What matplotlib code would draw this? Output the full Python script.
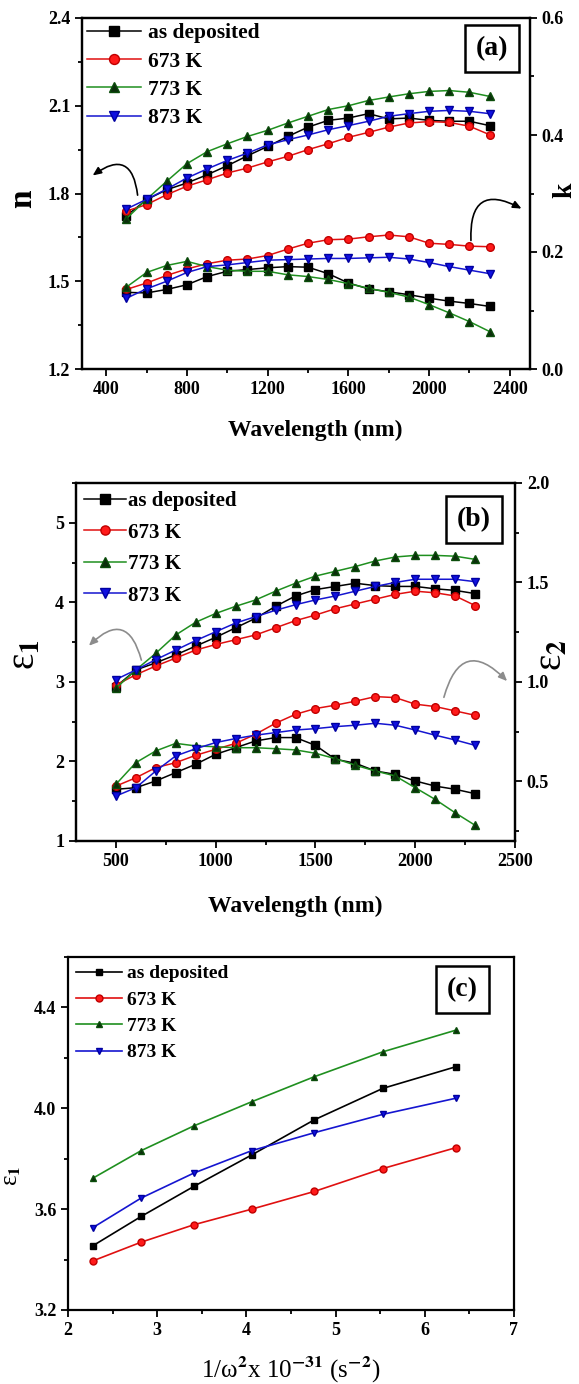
import matplotlib
matplotlib.use('Agg')
import matplotlib.pyplot as plt
from matplotlib.ticker import MultipleLocator

plt.rcParams['font.family'] = ['Liberation Serif', 'DejaVu Serif']
plt.rcParams['font.weight'] = 'bold'
plt.rcParams['mathtext.fontset'] = 'stix'

# ---------------- data ----------------
labels = ['as deposited', '673 K', '773 K', '873 K']
wavelength = [500, 600, 700, 800, 900, 1000, 1100, 1200, 1300, 1400,
              1500, 1600, 1700, 1800, 1900, 2000, 2100, 2200, 2300]

# refractive index n
n_asdep = [1.724, 1.779, 1.813, 1.836, 1.864, 1.895, 1.929, 1.961, 1.995, 2.027,
           2.050, 2.058, 2.073, 2.055, 2.058, 2.050, 2.047, 2.047, 2.032]
n_673 = [1.740, 1.762, 1.796, 1.825, 1.847, 1.870, 1.887, 1.908, 1.927, 1.950,
         1.970, 1.992, 2.009, 2.027, 2.041, 2.046, 2.043, 2.030, 2.001]
n_773 = [1.714, 1.780, 1.842, 1.902, 1.943, 1.970, 1.995, 2.016, 2.041, 2.064,
         2.087, 2.100, 2.118, 2.130, 2.141, 2.149, 2.152, 2.146, 2.132]
n_873 = [1.747, 1.780, 1.815, 1.853, 1.884, 1.913, 1.938, 1.966, 1.984, 2.000,
         2.018, 2.032, 2.047, 2.064, 2.073, 2.081, 2.084, 2.081, 2.073]

# extinction coefficient k
k_asdep = [0.131, 0.130, 0.136, 0.144, 0.158, 0.167, 0.170, 0.173, 0.175, 0.174,
           0.163, 0.147, 0.137, 0.132, 0.127, 0.121, 0.116, 0.112, 0.107]
k_673 = [0.136, 0.147, 0.160, 0.171, 0.180, 0.186, 0.188, 0.194, 0.205, 0.215,
         0.221, 0.222, 0.226, 0.229, 0.226, 0.215, 0.213, 0.210, 0.209]
k_773 = [0.140, 0.165, 0.177, 0.184, 0.175, 0.169, 0.167, 0.167, 0.161, 0.158,
         0.153, 0.146, 0.138, 0.131, 0.123, 0.110, 0.096, 0.081, 0.064]
k_873 = [0.121, 0.137, 0.150, 0.165, 0.175, 0.178, 0.182, 0.186, 0.187, 0.188,
         0.189, 0.189, 0.190, 0.191, 0.188, 0.182, 0.175, 0.169, 0.163]

# real part of dielectric constant
e1_asdep = [2.94, 3.15, 3.24, 3.34, 3.45, 3.56, 3.68, 3.80, 3.95, 4.08,
            4.16, 4.20, 4.24, 4.21, 4.20, 4.20, 4.17, 4.15, 4.11]
e1_673 = [2.96, 3.09, 3.20, 3.30, 3.40, 3.47, 3.53, 3.59, 3.68, 3.77,
          3.84, 3.92, 3.98, 4.04, 4.10, 4.14, 4.12, 4.08, 3.96]
e1_773 = [2.92, 3.15, 3.36, 3.59, 3.75, 3.86, 3.95, 4.03, 4.14, 4.24,
          4.33, 4.39, 4.45, 4.52, 4.57, 4.59, 4.59, 4.58, 4.54]
e1_873 = [3.03, 3.15, 3.28, 3.40, 3.52, 3.63, 3.74, 3.82, 3.90, 3.97,
          4.03, 4.08, 4.14, 4.20, 4.25, 4.29, 4.29, 4.29, 4.26]

# imaginary part of dielectric constant
e2_asdep = [0.460, 0.468, 0.502, 0.544, 0.586, 0.636, 0.669, 0.703, 0.720, 0.720,
            0.681, 0.611, 0.591, 0.552, 0.535, 0.502, 0.476, 0.460, 0.438]
e2_673 = [0.476, 0.518, 0.569, 0.594, 0.631, 0.661, 0.691, 0.737, 0.792, 0.837,
          0.866, 0.883, 0.903, 0.926, 0.921, 0.888, 0.876, 0.854, 0.832]
e2_773 = [0.485, 0.594, 0.653, 0.691, 0.678, 0.674, 0.669, 0.669, 0.664, 0.658,
          0.641, 0.614, 0.581, 0.552, 0.527, 0.468, 0.409, 0.342, 0.279]
e2_873 = [0.426, 0.468, 0.552, 0.628, 0.664, 0.695, 0.715, 0.732, 0.745, 0.758,
          0.765, 0.775, 0.782, 0.792, 0.782, 0.758, 0.732, 0.708, 0.681]

# epsilon_1 vs 1/omega^2 (x 1e-31 s^2)
inv_omega2 = [2.28, 2.82, 3.41, 4.06, 4.76, 5.53, 6.35]
c_asdep = [3.455, 3.571, 3.690, 3.815, 3.954, 4.079, 4.165]
c_673 = [3.395, 3.469, 3.538, 3.600, 3.670, 3.761, 3.844]
c_773 = [3.723, 3.832, 3.930, 4.026, 4.125, 4.224, 4.310]
c_873 = [3.527, 3.644, 3.743, 3.832, 3.903, 3.976, 4.040]

# ---------------- styles ----------------
styles = [
    dict(color='black', marker='s', mfc='black', mec='black'),
    dict(color='#e01010', marker='o', mfc='#ff1a1a', mec='#c00000'),
    dict(color='#1f8f1f', marker='^', mfc='#0b2e0b', mec='#0b4d0b'),
    dict(color='#1515d0', marker='v', mfc='#1010e0', mec='#0000a0'),
]

W, H = 579, 1384
fig = plt.figure(figsize=(W / 100, H / 100), dpi=100)


def box(l, r, t, b):
    return [l / W, 1 - b / H, (r - l) / W, (b - t) / H]


def style_axis(ax, right_ticks=False):
    for s in ax.spines.values():
        s.set_linewidth(1.6)
    ax.tick_params(which='both', direction='out', top=False, right=right_ticks,
                   width=1.3, labelsize=13)
    ax.tick_params(which='major', length=5)
    ax.tick_params(which='minor', length=3)


def series(ax, x, ys, ms, lw):
    lines = []
    for y, st, lab in zip(ys, styles, labels):
        ln, = ax.plot(x, y, color=st['color'], marker=st['marker'],
                      mfc=st['mfc'], mec=st['mec'], ms=ms, lw=lw, label=lab)
        lines.append(ln)
    return lines


def tag(ax, text, xf, yf, fs):
    ax.text(xf, yf, text, transform=ax.transAxes, ha='center', va='center',
            fontsize=fs, fontweight='bold',
            bbox=dict(boxstyle='square,pad=0.4', fc='white', ec='black', lw=1.8))


arrow_kw = dict(arrowstyle='-|>,head_length=0.5,head_width=0.22', lw=1.2)

# ---------------- panel (a) ----------------
axa = fig.add_axes(box(82, 530, 18, 369))
axk = axa.twinx()
lines = series(axa, wavelength, [n_asdep, n_673, n_773, n_873], 5.5, 1.1)
series(axk, wavelength, [k_asdep, k_673, k_773, k_873], 5.5, 1.1)
axa.set_xlim(280, 2500)
axa.set_ylim(1.2, 2.4)
axk.set_ylim(0.0, 0.6)
axa.xaxis.set_major_locator(MultipleLocator(400))
axa.xaxis.set_minor_locator(MultipleLocator(200))
axa.yaxis.set_major_locator(MultipleLocator(0.3))
axa.yaxis.set_minor_locator(MultipleLocator(0.15))
axk.yaxis.set_major_locator(MultipleLocator(0.2))
axk.yaxis.set_minor_locator(MultipleLocator(0.1))
axa.yaxis.set_major_formatter(plt.FormatStrFormatter('%.1f'))
axk.yaxis.set_major_formatter(plt.FormatStrFormatter('%.1f'))
style_axis(axa)
style_axis(axk, right_ticks=True)
axa.set_xlabel('Wavelength (nm)', fontsize=17, fontweight='bold', va='center')
axa.xaxis.set_label_coords(0.52, -0.175)
axa.set_ylabel('n', fontsize=24, fontweight='bold', va='center', ha='center')
axa.yaxis.set_label_coords(-0.132, 0.485)
axk.set_ylabel('k', fontsize=20, fontweight='bold', va='center', ha='center')
axk.yaxis.set_label_coords(1.078, 0.51)
axa.legend(handles=lines, loc='upper left', frameon=False, fontsize=15.5,
           handlelength=2.5, handletextpad=0.3, labelspacing=0.38,
           borderpad=0.1, borderaxespad=0.15, markerscale=1.3)
tag(axa, '(a)', 0.915, 0.913, 20)
axa.annotate('', xy=(322, 1.856), xytext=(557, 1.785),
             arrowprops=dict(color='black', connectionstyle='arc3,rad=0.9',
                             **arrow_kw))
axk.annotate('', xy=(2470, 0.272), xytext=(2208, 0.215),
             arrowprops=dict(color='black', connectionstyle='arc3,rad=-0.9',
                             **arrow_kw))

# ---------------- panel (b) ----------------
axb = fig.add_axes(box(76, 515, 483, 841))
axe2 = axb.twinx()
lines = series(axb, wavelength, [e1_asdep, e1_673, e1_773, e1_873], 5.5, 1.1)
series(axe2, wavelength, [e2_asdep, e2_673, e2_773, e2_873], 5.5, 1.1)
axb.set_xlim(300, 2500)
axb.set_ylim(1.0, 5.5)
axe2.set_ylim(0.2, 2.0)
axb.xaxis.set_major_locator(MultipleLocator(500))
axb.xaxis.set_minor_locator(MultipleLocator(250))
axb.yaxis.set_major_locator(MultipleLocator(1))
axb.yaxis.set_minor_locator(MultipleLocator(0.5))
axe2.yaxis.set_major_locator(MultipleLocator(0.5))
axe2.yaxis.set_minor_locator(MultipleLocator(0.25))
axe2.yaxis.set_major_formatter(plt.FormatStrFormatter('%.1f'))
style_axis(axb)
style_axis(axe2, right_ticks=True)
axb.set_xlabel('Wavelength (nm)', fontsize=17, fontweight='bold', va='center')
axb.xaxis.set_label_coords(0.5, -0.183)
axb.set_ylabel('ε$_{1}$', fontsize=28, va='center', ha='center')
axb.yaxis.set_label_coords(-0.115, 0.52)
axe2.set_ylabel('ε$_{2}$', fontsize=28, va='center', ha='center')
axe2.yaxis.set_label_coords(1.085, 0.52)
axb.legend(handles=lines, loc='upper left', frameon=False, fontsize=15,
           handlelength=2.0, handletextpad=0.1, labelspacing=0.55,
           borderpad=0.1, borderaxespad=0.3, markerscale=1.2)
tag(axb, '(b)', 0.907, 0.899, 20)
axb.annotate('', xy=(355, 3.43), xytext=(631, 3.24),
             arrowprops=dict(color='#8c8c8c', connectionstyle='arc3,rad=0.9',
                             **arrow_kw))
axe2.annotate('', xy=(2470, 0.994), xytext=(2140, 0.909),
              arrowprops=dict(color='#8c8c8c', connectionstyle='arc3,rad=-0.9',
                              **arrow_kw))

# ---------------- panel (c) ----------------
axc = fig.add_axes(box(68, 514, 957, 1310))
lines = series(axc, inv_omega2, [c_asdep, c_673, c_773, c_873], 5, 1.2)
axc.set_xlim(2, 7)
axc.set_ylim(3.2, 4.6)
axc.xaxis.set_major_locator(MultipleLocator(1))
axc.xaxis.set_minor_locator(MultipleLocator(0.5))
axc.yaxis.set_major_locator(MultipleLocator(0.4))
axc.yaxis.set_minor_locator(MultipleLocator(0.2))
axc.yaxis.set_major_formatter(plt.FormatStrFormatter('%.1f'))
style_axis(axc)
axc.set_xlabel('1/ω$^{2}$x 10$^{-31}$ (s$^{-2}$)', fontsize=18,
               fontweight='normal', va='center')
axc.xaxis.set_label_coords(0.5, -0.17)
axc.set_ylabel('ε$_{1}$', fontsize=18, va='center', ha='center')
axc.yaxis.set_label_coords(-0.125, 0.38)
axc.legend(handles=lines, loc='upper left', frameon=False, fontsize=14,
           handlelength=2.4, handletextpad=0.25, labelspacing=0.45,
           borderpad=0.1, borderaxespad=0.3, markerscale=1.0)
tag(axc, '(c)', 0.885, 0.907, 20)

fig.savefig('out.png', dpi=100)
